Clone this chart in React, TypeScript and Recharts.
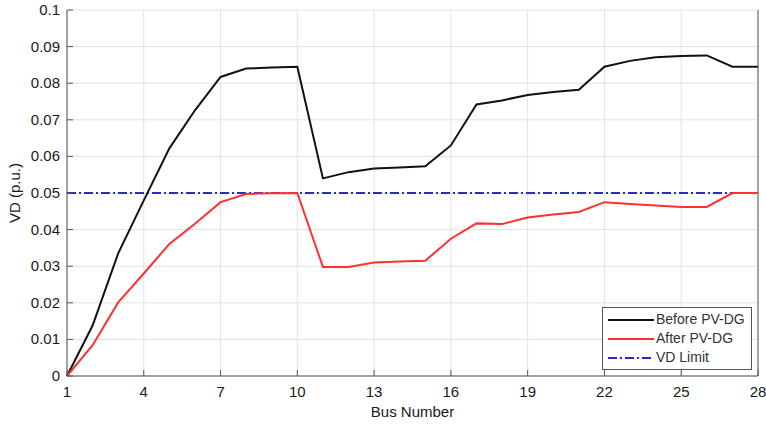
import {
  LineChart,
  Line,
  XAxis,
  YAxis,
  CartesianGrid,
  ReferenceLine,
  Legend,
} from "recharts";

// bus numbers 1..28
const buses = [
  1, 2, 3, 4, 5, 6, 7, 8, 9, 10, 11, 12, 13, 14, 15, 16, 17, 18, 19, 20, 21,
  22, 23, 24, 25, 26, 27, 28,
];

const beforePV = [
  0, 0.0138, 0.0335, 0.048, 0.0622, 0.0726, 0.0817, 0.084, 0.0843, 0.0845,
  0.054, 0.0557, 0.0567, 0.057, 0.0573, 0.063, 0.0742, 0.0753, 0.0768, 0.0776,
  0.0782, 0.0845, 0.0861, 0.0871, 0.0874, 0.0876, 0.0845, 0.0845,
];

const afterPV = [
  0, 0.0084, 0.0201, 0.028, 0.0361, 0.0416, 0.0475, 0.0497, 0.0499, 0.05,
  0.0298, 0.0298, 0.031, 0.0313, 0.0315, 0.0375, 0.0417, 0.0415, 0.0433,
  0.0441, 0.0448, 0.0475, 0.047, 0.0466, 0.0462, 0.0462, 0.05, 0.05,
];

const VD_LIMIT = 0.05;

const xTicks = [1, 4, 7, 10, 13, 16, 19, 22, 25, 28];
const yTicks = [0, 0.01, 0.02, 0.03, 0.04, 0.05, 0.06, 0.07, 0.08, 0.09, 0.1];

const legendItems = [
  { name: "Before PV-DG", color: "#111111", dash: "" },
  { name: "After PV-DG", color: "#ff3030", dash: "" },
  { name: "VD Limit", color: "#2a2ac8", dash: "9 3 2 3" },
];

const data = buses.map((bus, i) => ({
  bus,
  before: beforePV[i],
  after: afterPV[i],
}));

const FONT = "'Liberation Sans', Arial, sans-serif";
const AXIS = "#555";
const TICK_GAP = 7;

const fmt = (v: number) => String(Number(v.toFixed(2)));

const LeftTick = (props: any) => {
  const { x, y, payload } = props;
  return (
    <g>
      <line x1={x + TICK_GAP} x2={x + TICK_GAP + 6} y1={y} y2={y} stroke={AXIS} />
      <text x={x} y={y} dy={5} textAnchor="end" fontSize={15} fill="#1a1a1a" fontFamily={FONT}>
        {fmt(payload.value)}
      </text>
    </g>
  );
};

const BottomTick = (props: any) => {
  const { x, y, payload } = props;
  return (
    <g>
      <line x1={x} x2={x} y1={y - TICK_GAP} y2={y - TICK_GAP - 6} stroke={AXIS} />
      <text x={x} y={y} dy={14} textAnchor="middle" fontSize={15} fill="#1a1a1a" fontFamily={FONT}>
        {payload.value}
      </text>
    </g>
  );
};

const TopTick = (props: any) => {
  const { x, y } = props;
  return <line x1={x} x2={x} y1={y} y2={y + 6} stroke={AXIS} />;
};

const RightTick = (props: any) => {
  const { x, y } = props;
  return <line x1={x} x2={x - 6} y1={y} y2={y} stroke={AXIS} />;
};

const LegendBox = () => (
  <div
    style={{
      boxSizing: "border-box",
      width: 150,
      border: "1px solid #555",
      background: "#fff",
      padding: "2px 2px 2px 4px",
      fontFamily: FONT,
      fontSize: 14,
      color: "#333",
      lineHeight: "19px",
      whiteSpace: "nowrap",
    }}
  >
    {legendItems.map((it) => (
      <div key={it.name} style={{ display: "flex", alignItems: "center" }}>
        <svg width={49} height={10} style={{ flex: "none" }}>
          <line
            x1={1}
            x2={47}
            y1={5}
            y2={5}
            stroke={it.color}
            strokeWidth={2}
            strokeDasharray={it.dash}
          />
        </svg>
        <span>{it.name}</span>
      </div>
    ))}
  </div>
);

const App = () => {
  return (
    <div style={{ position: "absolute", left: 0, top: 0, background: "#fff" }}>
      <LineChart
        width={766}
        height={427}
        data={data}
        margin={{ top: 10, right: 0, bottom: 0, left: 0 }}
      >
        <CartesianGrid stroke="#e2e2e2" />
        <XAxis
          dataKey="bus"
          type="number"
          domain={[1, 28]}
          ticks={xTicks}
          interval={0}
          height={51}
          tickSize={0}
          tickMargin={TICK_GAP}
          stroke={AXIS}
          tick={<BottomTick />}
          label={{
            value: "Bus Number",
            position: "insideBottom",
            offset: 10,
            fontSize: 15,
            fill: "#1a1a1a",
            fontFamily: FONT,
          }}
        />
        <XAxis
          xAxisId="top"
          orientation="top"
          dataKey="bus"
          type="number"
          domain={[1, 28]}
          ticks={xTicks}
          interval={0}
          height={0}
          tickSize={0}
          tickMargin={0}
          stroke={AXIS}
          tick={<TopTick />}
        />
        <YAxis
          type="number"
          domain={[0, 0.1]}
          ticks={yTicks}
          interval={0}
          width={67}
          tickSize={0}
          tickMargin={TICK_GAP}
          stroke={AXIS}
          tick={<LeftTick />}
          label={{
            content: () => (
              <text
                x={20}
                y={193}
                transform="rotate(-90 20 193)"
                textAnchor="middle"
                fontSize={15}
                fill="#1a1a1a"
                fontFamily={FONT}
              >
                VD (p.u.)
              </text>
            ),
          }}
        />
        <YAxis
          yAxisId="right"
          orientation="right"
          type="number"
          domain={[0, 0.1]}
          ticks={yTicks}
          interval={0}
          width={8}
          tickSize={0}
          tickMargin={0}
          stroke={AXIS}
          tick={<RightTick />}
        />
        <ReferenceLine
          y={VD_LIMIT}
          stroke="#2a2ac8"
          strokeWidth={2}
          strokeDasharray="9 3 2 3"
        />
        <Line
          dataKey="before"
          stroke="#111111"
          strokeWidth={2}
          dot={false}
          isAnimationActive={false}
        />
        <Line
          dataKey="after"
          stroke="#ff3030"
          strokeWidth={2}
          dot={false}
          isAnimationActive={false}
        />
        <Legend
          layout="horizontal"
          verticalAlign="middle"
          align="center"
          content={<LegendBox />}
          wrapperStyle={{ left: 602, top: 307, width: 150 }}
        />
      </LineChart>
    </div>
  );
};

export default App;
